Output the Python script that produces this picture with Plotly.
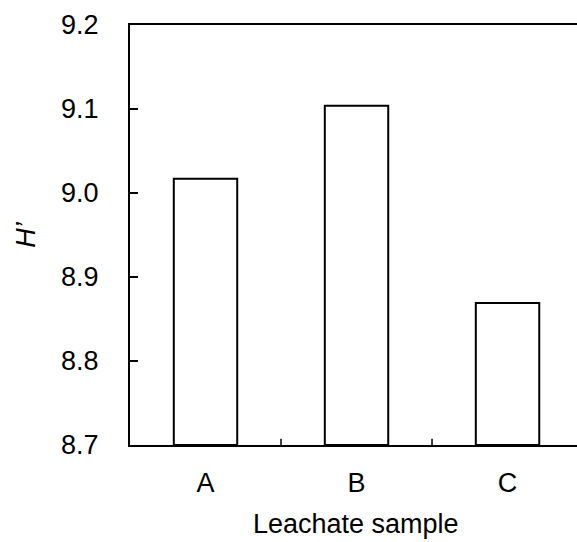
import plotly.graph_objects as go

categories = ["A", "B", "C"]
values = [9.017, 9.104, 8.869]
y_ticks = [8.7, 8.8, 8.9, 9.0, 9.1, 9.2]
y_tick_labels = ["8.7", "8.8", "8.9", "9.0", "9.1", "9.2"]
y_base = 8.7
x_title = "Leachate sample"

font_family = "Liberation Sans, Arial, sans-serif"

fig = go.Figure(
    go.Bar(
        x=categories,
        y=[v - y_base for v in values],
        base=y_base,
        width=0.42,
        marker=dict(color="white", line=dict(color="black", width=2)),
    )
)

fig.update_layout(
    width=577,
    height=542,
    margin=dict(l=130, r=0, t=25, b=97),
    paper_bgcolor="white",
    plot_bgcolor="white",
    showlegend=False,
    font=dict(family=font_family, size=27, color="black"),
    xaxis=dict(
        range=[-0.5, 2.46],
        showline=True,
        linecolor="black",
        linewidth=2,
        mirror=True,
        ticks="inside",
        ticklen=0,
        showgrid=False,
        automargin=False,
        tickfont=dict(size=27),
        ticklabelstandoff=13,
    ),
    yaxis=dict(
        range=[8.7, 9.2],
        tickvals=y_ticks,
        ticktext=y_tick_labels,
        showline=True,
        linecolor="black",
        linewidth=2,
        ticks="inside",
        ticklen=8,
        tickwidth=1.5,
        tickcolor="black",
        showgrid=False,
        zeroline=False,
        automargin=False,
        tickfont=dict(size=27),
        ticklabelstandoff=24,
        title=dict(text="<i>H’</i>", font=dict(size=27), standoff=18),
    ),
)

fig.add_annotation(
    text=x_title, xref="paper", yref="paper",
    x=0.506, y=-0.188, xanchor="center", yanchor="middle",
    showarrow=False, font=dict(size=27),
)

# category boundary ticks on the x axis (between categories)
for xb in [0.5, 1.5]:
    fig.add_shape(
        type="line", xref="x", yref="y domain",
        x0=xb, x1=xb, y0=0, y1=0.015,
        line=dict(color="black", width=1.5),
    )

fig.write_html("out.html")
